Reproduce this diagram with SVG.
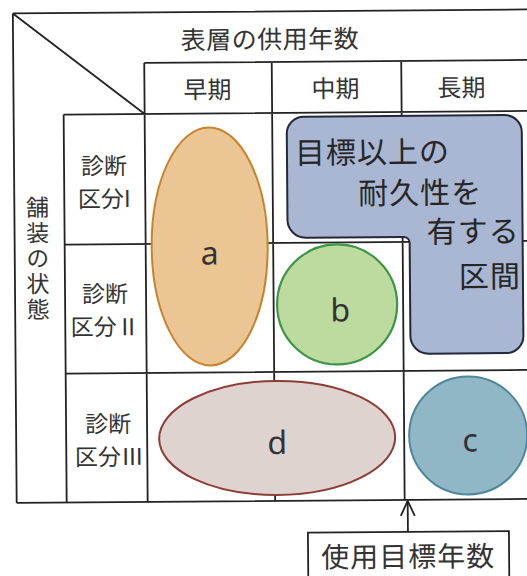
<svg xmlns="http://www.w3.org/2000/svg" width="527" height="576" viewBox="0 0 527 576">
<defs>
<style>
.ln{stroke:#222;stroke-width:1.8;fill:none}
.jp{font-family:"Noto Sans CJK JP","Noto Sans",sans-serif;fill:#333}
.lt{font-family:"Noto Sans","DejaVu Sans",sans-serif;fill:#333;font-size:32px;text-anchor:middle}
.hd{font-size:24px;text-anchor:middle}
.rl{font-size:23px;text-anchor:middle}
.bx{font-size:30px;fill:#262626;letter-spacing:1px}
</style>
<marker id="arr" viewBox="0 0 16 16" refX="15" refY="8" markerWidth="16" markerHeight="16" markerUnits="userSpaceOnUse" orient="auto">
<path d="M0,1 L15,8 L0,15" fill="none" stroke="#222" stroke-width="1.8"/>
</marker>
</defs>
<rect width="527" height="576" fill="#fff"/>
<g transform="rotate(-0.45 263 288)">
<g id="table">
<path class="ln" d="M15,11.5 H540 M15,11.5 V501 M15,11.5 L146,113 M146,62 H540 M65,113 H540 M65,243 H540 M65,372 H540 M15,501 H540 M65,113 V501 M146,62 V501 M273.5,62 V501 M403,62 V501"/>
</g>
<g id="headers">
<text class="jp" x="272" y="48.5" font-size="25" text-anchor="middle" letter-spacing="0.5">表層の供用年数</text>
<text class="jp hd" x="209" y="98">早期</text>
<text class="jp hd" x="337" y="98">中期</text>
<text class="jp hd" x="463" y="98">長期</text>
</g>
<g id="axis-label">
<text class="jp" x="38" y="194" font-size="23" writing-mode="vertical-rl" letter-spacing="2.5">舗装の状態</text>
</g>
<g id="row1">
<text class="jp rl"><tspan x="105" y="173">診断</tspan><tspan x="105" y="206">区分I</tspan></text>
</g>
<g id="row2">
<text class="jp rl"><tspan x="105" y="301">診断</tspan><tspan x="105" y="334">区分Ⅱ</tspan></text>
</g>
<g id="row3">
<text class="jp rl"><tspan x="107" y="431">診断</tspan><tspan x="108" y="464">区分Ⅲ</tspan></text>
</g>
<g id="region-durable">
<path d="M305,117 H506 A17,17 0 0 1 523,134 V338 A17,17 0 0 1 506,355 H428 A18,18 0 0 1 410,337 V244 A6,6 0 0 0 404,238 H306 A18,18 0 0 1 288,220 V134 A17,17 0 0 1 305,117 Z" fill="#a9b7d3" stroke="#23293a" stroke-width="2"/>
<text class="jp bx" x="296" y="164">目標以上の</text>
<text class="jp bx" x="359" y="205">耐久性を</text>
<text class="jp bx" x="427" y="244">有する</text>
<text class="jp bx" x="459" y="289">区間</text>
</g>
<g id="node-a">
<ellipse cx="210" cy="246" rx="58" ry="119" fill="#ebc593" stroke="#c8842c" stroke-width="2"/>
<text class="lt" x="210" y="264">a</text>
</g>
<g id="node-b">
<circle cx="337" cy="305" r="60" fill="#bedb9f" stroke="#3b9645" stroke-width="2.2"/>
<text class="lt" x="340" y="322">b</text>
</g>
<g id="node-d">
<ellipse cx="276" cy="438" rx="118" ry="57" fill="#dfd3cf" stroke="#8e3c36" stroke-width="2"/>
<text class="lt" x="276" y="454">d</text>
</g>
<g id="node-c">
<circle cx="467" cy="437" r="59" fill="#91b6c6" stroke="#4c879c" stroke-width="2"/>
<text class="lt" x="469" y="453">c</text>
</g>
<g id="target-years">
<rect x="306" y="533" width="201" height="70" fill="#fff" stroke="#222" stroke-width="1.8"/>
<text class="jp" x="406" y="568" font-size="28" text-anchor="middle" letter-spacing="1">使用目標年数</text>
</g>
<g id="connectors">
<path class="ln" d="M406,533 V502" marker-end="url(#arr)"/>
</g>
</g>
</svg>
